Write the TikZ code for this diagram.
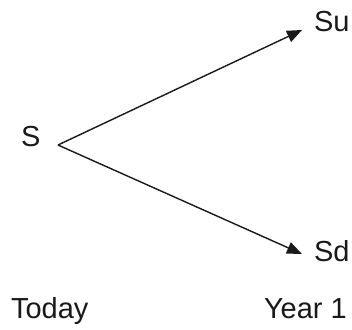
\documentclass[tikz,border=0pt]{standalone}
\usepackage{fontspec}
\setmainfont{Liberation Sans}
\usetikzlibrary{arrows.meta}
\begin{document}
\begin{tikzpicture}[x=1pt,y=-1pt,
  lbl/.style={anchor=base west,inner sep=0pt,outer sep=0pt,text=black!90,font=\fontsize{29}{34}\selectfont},
  arr/.style={line width=1.4pt,draw=black!90,-{Triangle[length=15pt,width=12pt]}}]
\useasboundingbox (0,0) rectangle (352,329);
\node[lbl] (S) at (21,146) {S};
\node[lbl] (Su) at (314,31) {Su};
\node[lbl] (Sd) at (314,261) {Sd};
\node[lbl] (Today) at (11,318) {Today};
\node[lbl] (Year) at (264,318) {Year 1};
\coordinate (o) at (58,145);
\draw[arr] (o) -- ([xshift=-12pt,yshift=1pt]Su.base west);
\draw[arr] (o) -- ([xshift=-12pt,yshift=7pt]Sd.base west);
\end{tikzpicture}
\end{document}
